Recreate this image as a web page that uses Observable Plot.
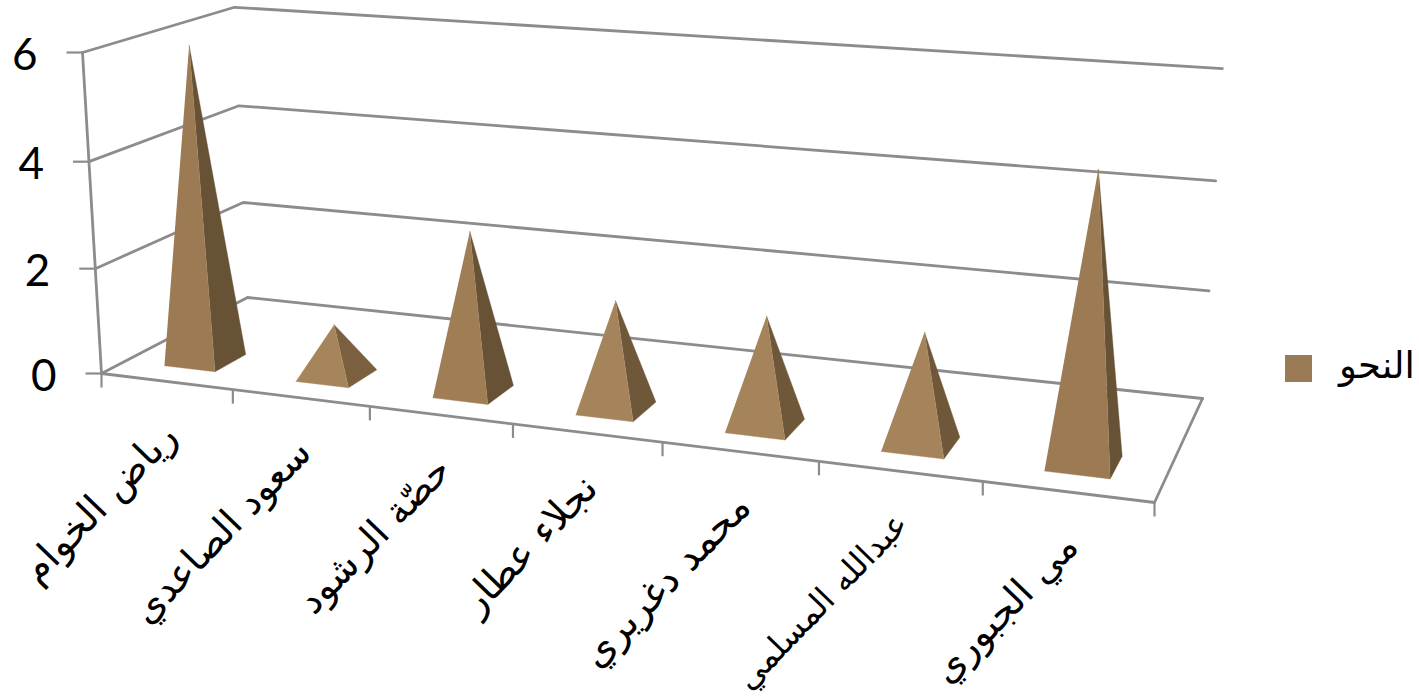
<!DOCTYPE html>
<html><head><meta charset="utf-8">
<style>
html,body{margin:0;background:#fff;overflow:hidden}
#chart{position:relative;width:1419px;height:697px}
#chart svg{display:block;background:#fff}
#legend{position:absolute;left:1285px;top:348px;display:flex;align-items:center;height:40px;font:37px "DejaVu Sans",sans-serif;color:#000;white-space:nowrap}
#legend i{display:block;width:27px;height:27px;background:#9a7b55;margin-right:27px}
#legend span{position:relative;top:-3px}
</style>
<script src="https://cdn.jsdelivr.net/npm/d3@7"></script>
<script src="https://cdn.jsdelivr.net/npm/@observablehq/plot@0.6"></script>
</head><body><div id="chart"><div id="legend"><i></i><span dir="rtl">النحو</span></div></div>
<script>
const names = ["رياض الخوام","سعود الصاعدي","حصّة الرشود","نجلاء عطار","محمد دغريري","عبدالله المسلمي","مي الجبوري"];
const scores = [6,1,3,2,2,2,5];
const valueTicks = [0,2,4,6];
const frontShade = {1:"#a6855c",2:"#a5845b",3:"#9f7e56",5:"#9c7b54",6:"#9c7b54"};
const sideShade  = {1:"#7b6040",2:"#6f573a",3:"#685236",5:"#675236",6:"#675236"};
const nameFit = [39,38,38,39,39,33,38]; // font size per label, fitted to the reference's label lengths

// perspective camera of the 3D box, fixed by its visible corners
const W=1419,H=697, nCat=names.length, vMax=6;
const O=[101,373], SX=[1154,502], SXD=[1202,398], SD=[247,297], ST=[82,52];
const det=(a,b)=>a[0]*b[1]-a[1]*b[0];
const d1=[SX[0]-SXD[0],SX[1]-SXD[1]], d2=[SD[0]-SXD[0],SD[1]-SXD[1]];
const sm=[O[0]-SX[0]+SXD[0]-SD[0],O[1]-SX[1]+SXD[1]-SD[1]];
const gx=det(sm,d2)/det(d1,d2), gd=det(d1,sm)/det(d1,d2), gv=-0.03;
const skew=[4,8];
function project(u,d,v){
  const s0=u/nCat, s=s0+0.02*s0*(1-s0), t=v/vMax, w=1+gx*s+gd*d+gv*t;
  return [0,1].map(k=>{
    const B=SX[k]*(1+gx)-O[k], C=SD[k]*(1+gd)-O[k], D=ST[k]*(1+gv)-O[k];
    return (O[k]+s*B+d*C+t*D)/w + skew[k]*s*t;
  });
}
const dF=0.15,dB=0.36,dM=0.24,hw=0.195,cen=0.5;
const P=(u,d,v,extra)=>{const [x,y]=project(u,d,v);return {x,y,...extra};};

const frameLines=[];
valueTicks.forEach(v=>{ [[0,0],[0,1],[nCat,1]].forEach(([u,d])=>frameLines.push(P(u,d,v,{z:"g"+v}))); });
[[0,0],[nCat,0],[nCat,1]].forEach(([u,d])=>frameLines.push(P(u,d,0,{z:"floor"})));
[[0,0,0],[0,0,vMax]].forEach(([u,d,v])=>frameLines.push(P(u,d,v,{z:"axis"})));

const catTicks=d3.range(nCat+1).map(i=>P(i,0,0,{}));
const vTicks=valueTicks.map(v=>P(0,0,v,{label:String(v)}));

const sideFaces=[],frontFaces=[];
scores.forEach((v,i)=>{
  const u=i+cen, apex=[u+0.01,dM,v];
  [[u+hw,dF,0],[u+hw,dB,0],apex].forEach(p=>sideFaces.push(P(...p,{z:i,c:sideShade[v]})));
  [[u-hw,dF,0],[u+hw,dF,0],apex].forEach(p=>frontFaces.push(P(...p,{z:i,c:frontShade[v]})));
});
const catLabels=names.map((n,i)=>P(i+0.5,0,0,{n,fs:nameFit[i]}));

const grey="#8c8c8c";
const chart=Plot.plot({
  width:W,height:H,margin:0,
  x:{domain:[0,W],range:[0,W],axis:null},
  y:{domain:[0,H],range:[0,H],axis:null},
  marks:[
    Plot.line(frameLines,{x:"x",y:"y",z:"z",stroke:grey,strokeWidth:2.8,curve:"linear"}),
    Plot.link(vTicks,{x1:d=>d.x-16,x2:"x",y1:"y",y2:"y",stroke:grey,strokeWidth:2.2}),
    Plot.link(catTicks,{x1:"x",x2:"x",y1:"y",y2:d=>d.y+14,stroke:grey,strokeWidth:2.2}),
    Plot.line(sideFaces,{x:"x",y:"y",z:"z",fill:"c",stroke:"c",strokeWidth:0.4,curve:"linear"}),
    Plot.line(frontFaces,{x:"x",y:"y",z:"z",fill:"c",stroke:"c",strokeWidth:0.4,curve:"linear"}),
    Plot.text(vTicks,{x:"x",y:"y",text:"label",dx:-45,dy:3,textAnchor:"end",fontFamily:"Lato",fontSize:44,fill:"#000"}),
    ...d3.range(nCat).map(i=>Plot.text([catLabels[i]],{x:"x",y:"y",text:"n",dx:-7,dy:38,rotate:-46,textAnchor:"end",lineAnchor:"top",fontFamily:"DejaVu Sans",fontSize:nameFit[i],fill:"#000"}))
  ]
});
document.getElementById("chart").prepend(chart);
</script></body></html>
